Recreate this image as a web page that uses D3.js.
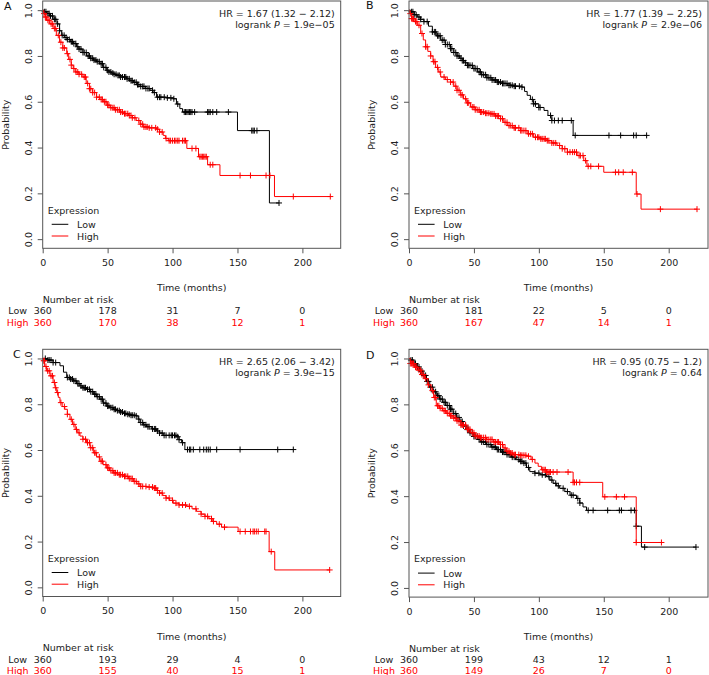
<!DOCTYPE html>
<html><head><meta charset="utf-8">
<script src="https://cdn.jsdelivr.net/npm/d3@7"></script>
<style>body{margin:0;background:#fff}svg{display:block}text{font-family:"DejaVu Sans",sans-serif;}</style>
</head><body><svg id="c" width="709" height="675"></svg>
<script>
// ---------- DATA ----------
const xTicks = [0, 50, 100, 150, 200];
const yTicks = [0, 0.2, 0.4, 0.6, 0.8, 1.0];
const groups = ["Low", "High"];
const panelLetters = ["A", "B", "C", "D"];

// Kaplan-Meier steps: [time (months), survival after drop]
const A_low = [[1,0.993],[3,0.985],[5.5,0.975],[8,0.96],[11,0.94],[13,0.91],[14.6,0.89],[17,0.88],[19,0.872],[21.5,0.862],[23.6,0.854],[26,0.84],[28,0.83],[31,0.815],[33.8,0.80],[36.5,0.79],[39,0.782],[41.5,0.775],[44,0.766],[46.5,0.75],[49,0.737],[51,0.73],[53,0.725],[55,0.72],[57,0.715],[60,0.708],[64.6,0.70],[67,0.692],[70,0.685],[72.5,0.675],[75,0.667],[79,0.658],[82.6,0.65],[85,0.64],[87.7,0.62],[95,0.617],[100.5,0.613],[103,0.59],[105.6,0.57],[107.7,0.555],[150,0.474],[174.6,0.158]];
const A_high = [[0.5,0.985],[2,0.97],[3,0.956],[5.5,0.94],[8,0.92],[10.5,0.89],[13,0.86],[15.5,0.835],[18.5,0.81],[20,0.785],[22,0.76],[23.5,0.745],[25,0.73],[28,0.72],[31,0.708],[33.5,0.68],[36,0.657],[38.5,0.64],[41.5,0.62],[44,0.61],[46.7,0.60],[49.5,0.585],[52,0.574],[55.5,0.565],[59.5,0.555],[62.5,0.548],[66,0.54],[69,0.53],[72,0.518],[75,0.502],[77.4,0.49],[82,0.486],[87.7,0.48],[90,0.468],[92.8,0.453],[94.5,0.44],[96.7,0.43],[111,0.396],[120,0.36],[127,0.325],[136.5,0.278],[178.5,0.186]];
const A_lowCens = [1.5,2.5,4,5,6,7.5,9,10,11.5,13,15,16.5,18,19,20.5,22,23,24,25.5,27,28,29.5,31,32,33.5,35,36,37,38.5,39.5,41,42,43.6,45,46,47,48.7,50,51,52.5,54,55,56.5,58,59,60,61.5,63,64,65,66.7,68,69,70.5,72,73,74,75.5,77,78,79.5,81,82,84.6,86,88.5,90,91,93.6,96,98.7,101,104,109,110,111,112,113,114,115,117,127,128,129,131,134,143,161,162,163,165,182];
const A_highCens = [1,2,2.6,4,5,6.5,7.7,9,10,12,14,15.5,16.7,19,21,22,24,25.6,27,28,30,32,33,34.6,36,37,38.5,40,41.5,43.6,45,46,47.5,48.7,50,51,52.5,54,55,56,57.5,59,60,61.5,63,64,65.5,66.7,68,69,71,74,75.5,77,78,79.5,80.5,82,84,87,88.5,90,92,95,97.4,98.5,100,101.5,102.6,104,105,107.7,109,110,115,118,121,122,123,124,125,126,129,131,152,160,172,175,193,221.5];

const B_low = [[1.3,0.993],[4,0.98],[6.4,0.97],[9,0.96],[11.5,0.95],[15,0.93],[18,0.905],[21,0.888],[24.4,0.869],[28,0.85],[32,0.832],[34.5,0.815],[37,0.80],[39,0.79],[41,0.78],[43,0.77],[45,0.759],[49,0.745],[52.6,0.73],[56,0.718],[60,0.705],[64,0.695],[68,0.686],[72,0.68],[75.6,0.672],[81,0.668],[87,0.664],[89,0.645],[91,0.628],[93.5,0.61],[96,0.591],[100,0.575],[104,0.562],[107,0.54],[110,0.518],[126.4,0.453]];
const B_high = [[0.5,0.985],[2,0.963],[4,0.95],[6.4,0.934],[9,0.898],[11,0.87],[12.8,0.84],[14.5,0.82],[16.7,0.80],[18.5,0.775],[20.5,0.75],[22.5,0.73],[24.4,0.708],[28,0.697],[32,0.686],[34.5,0.668],[37,0.65],[39.5,0.63],[42,0.613],[44.5,0.595],[47.4,0.577],[51,0.565],[55,0.555],[59,0.55],[62.8,0.547],[66.5,0.538],[70.5,0.526],[73,0.51],[75.6,0.496],[80,0.486],[86,0.474],[91,0.46],[96,0.445],[101,0.438],[106.4,0.43],[110,0.42],[114,0.409],[118,0.395],[122,0.38],[129.5,0.365],[134.6,0.343],[137,0.318],[150,0.292],[175,0.197],[178.7,0.131]];
const B_lowCens = [2,3,4,5.5,7.7,9,11.5,14,18,19.5,20.5,22,23,24,25.6,27,28,29.5,31,32,33,34.5,36,37,38.5,40,41,42,43.6,45,46,47,48.7,50,51,52.5,54,55,56,57.5,59,60,61.5,63,64,65.5,66.7,68,69,70.5,72,73,74,75.5,77,78,79.5,81,82,85,87,95,96,97.4,100,101,109,110,112,115,118,125,128,154,163,173,175,183];
const B_highCens = [1,2,2.6,3.5,5,6,7.7,10,12.8,14,16.7,19,20,22,24,27,29.5,32,34,36,37,38.5,40,41,43.6,45,46,48.7,50,51,52.5,54,55,56,57.5,59,60,61.5,63,64,65.5,66.7,68,69,70.5,72,74,75.5,77,78,79.5,81,82,84.6,86,87,88.5,90,92,93.5,95,97.4,99,100,101.5,102.6,104,105,106.5,107.7,110,111.5,113,116,118,120,122,124,126,127.5,129,131,132,134,136,138,140,146,159,161.5,165,172,175.6,193.6,221.8];

const C_low = [[3,0.993],[8,0.982],[13.3,0.968],[16,0.94],[18.5,0.917],[21,0.91],[23.6,0.902],[26,0.89],[28.7,0.88],[31,0.872],[33.8,0.865],[36.5,0.855],[39,0.844],[41.5,0.833],[44,0.822],[46.5,0.805],[49,0.792],[51.5,0.785],[54.4,0.778],[57,0.772],[59.5,0.766],[62,0.76],[64.6,0.756],[68,0.752],[72,0.749],[73.5,0.735],[75,0.72],[77.5,0.71],[80,0.702],[84,0.692],[87.7,0.683],[90,0.674],[92.8,0.664],[103,0.658],[105,0.645],[107,0.632],[109.5,0.602]];
const C_high = [[0.5,0.99],[1.5,0.965],[3,0.946],[5.6,0.924],[8,0.895],[9.5,0.872],[10.8,0.851],[12,0.83],[13.3,0.807],[15,0.79],[17,0.778],[19,0.756],[21,0.734],[23,0.712],[25,0.69],[27,0.675],[28.7,0.661],[31,0.647],[33.8,0.632],[36.5,0.61],[39,0.588],[41.5,0.57],[44,0.551],[46.5,0.536],[49,0.522],[51.5,0.51],[54.4,0.50],[58,0.492],[62,0.485],[66,0.475],[70,0.463],[72.5,0.452],[75,0.441],[80,0.438],[85,0.434],[87.5,0.423],[90,0.412],[92.5,0.401],[95,0.39],[97.5,0.38],[100.5,0.368],[105,0.36],[110.8,0.354],[115,0.343],[118.5,0.332],[122,0.32],[125,0.31],[128,0.3],[131,0.288],[134,0.276],[137.7,0.263],[150.5,0.244],[174.4,0.156],[178.7,0.076]];
const C_lowCens = [2,4,5,6.4,8,10,19,20.5,21.5,23,24,25.6,27,28,29.5,31,32,33,34.5,36,37,38.5,40,41,42,43.6,45,46,47,48.7,50,51,52.5,54,55,56,57.5,59,60,61.5,63,64,65.5,66.7,68,69,70.5,72,74,75.5,77,78,79.5,81,82,84.6,86,87,88.5,90,92,93.5,95,97.4,99,100,101.5,102.6,104,105,107.7,111.5,113,114,116,121,124,126,127.5,129,134,152,181,193];
const C_highCens = [0.8,1.3,2.5,3.8,5,6.4,7.5,9,10,11.5,14,16.7,19,22,24,26,28,31,33,34.5,36,37,38.5,40,41,43.6,45,46,48.7,50,51,52.5,54,55,56,57.5,59,60,61.5,63,64,65.5,66.7,68,69,70.5,72,74,75.5,77,79.5,82,84.6,86,87,88.5,90,92,95,97.4,100,102.6,105,107.7,110,113,118,122,125,127,130,131.5,136,140,152,156,160,162,163,164.5,166,171,172,176,221];

const D_low = [[1,0.993],[3.5,0.978],[5.7,0.963],[8,0.945],[10.8,0.926],[13.5,0.9],[16,0.875],[18.5,0.855],[21,0.838],[23.5,0.823],[26,0.809],[28.5,0.795],[31.4,0.779],[34,0.76],[36.5,0.743],[39,0.725],[41.7,0.706],[44,0.69],[46.8,0.676],[50,0.66],[53,0.647],[56,0.636],[59.7,0.625],[63.5,0.614],[67.4,0.603],[71,0.592],[75,0.581],[79,0.57],[83,0.559],[85.5,0.552],[88,0.544],[90.5,0.525],[93,0.507],[97,0.5],[101,0.493],[106,0.485],[108.5,0.47],[111,0.456],[113.5,0.445],[116,0.434],[120,0.42],[124,0.404],[129,0.39],[131.5,0.37],[134,0.353],[136.7,0.338],[175,0.269],[179,0.178]];
const D_high = [[1,0.978],[4,0.962],[7,0.949],[9.5,0.93],[12,0.912],[14.5,0.885],[17,0.86],[19,0.83],[21,0.794],[23.5,0.783],[26,0.772],[28.7,0.761],[31.4,0.75],[34,0.74],[36.5,0.728],[40,0.71],[44,0.691],[47.5,0.676],[50.7,0.662],[55,0.655],[59.7,0.647],[65,0.636],[70,0.625],[72.5,0.61],[75,0.596],[77.5,0.588],[80.3,0.581],[85,0.578],[90.6,0.574],[94,0.56],[97,0.544],[99.5,0.53],[102,0.515],[106,0.505],[126.4,0.46],[149.2,0.397],[175,0.198]];
const D_lowCens = [1.5,2.6,4,5,6.5,7.7,9,10,11.5,12.8,14,15,16.5,18,19,20.5,22,23,24,25.6,27,28,29.5,31,32,33,34.5,36,37,38.5,40,41,42,43.6,45,46,47,48.7,50,51,52.5,54,55,56,57.5,59,60,61.5,63,64,65.5,66.7,68,69,70.5,72,73,74,75.5,77,78,79.5,81,82,84.6,86,87,88.5,90,92,97,100,102.6,105,107.7,110,113,115,118.7,122,125,126.4,130,131.6,138,141.8,153,162,163.6,171,173.6,175,181.5,221];
const D_highCens = [1,2,2.6,3.5,5,6,7.7,9,10,11,12.8,15,18,19.5,20.5,22,23,24,25.6,27,28,29.5,31,32,33,34.5,36,37,38.5,40,41,42,43.6,45,46,47,48.7,50,51,52.5,54,55,56,57.5,59,60,61.5,63,64,65.5,66.7,68,69,70.5,72,74,75.5,77,78,79.5,81,82,84.6,86,87,88.5,90,92,95,103,104,105,106,107,108,109,111,114,122.5,126.4,127.5,129,131.5,150.8,159.7,166,175,194.4];

// Numbers at risk at xTicks
const A_riskLow = [360,178,31,7,0],  A_riskHigh = [360,170,38,12,1];
const B_riskLow = [360,181,22,5,0],  B_riskHigh = [360,167,47,14,1];
const C_riskLow = [360,193,29,4,0],  C_riskHigh = [360,155,40,15,1];
const D_riskLow = [360,199,43,12,1], D_riskHigh = [360,149,26,7,0];

// Statistics
const hrTexts = ["HR = 1.67 (1.32 \u2212 2.12)", "HR = 1.77 (1.39 \u2212 2.25)", "HR = 2.65 (2.06 \u2212 3.42)", "HR = 0.95 (0.75 \u2212 1.2)"];
const pTexts = ["1.9e\u221205", "2.9e\u221206", "3.9e\u221215", "0.64"];

// ---------- LAYOUT ----------
const colors = {Low: "#000000", High: "#ff0000"};
const FS = 9.5;
const boxes = [
  {x: 42.7, y: 1,     w: 298, h: 247.3, lx: 4,   ly: 10},
  {x: 409,  y: 1,     w: 299, h: 247.3, lx: 366, ly: 9},
  {x: 42.7, y: 349.3, w: 298, h: 247.2, lx: 13,  ly: 357.5},
  {x: 409,  y: 349.3, w: 299, h: 247.8, lx: 366, ly: 358.5}
];
const panelData = [
  {Low: A_low, High: A_high, LowC: A_lowCens, HighC: A_highCens, rLow: A_riskLow, rHigh: A_riskHigh},
  {Low: B_low, High: B_high, LowC: B_lowCens, HighC: B_highCens, rLow: B_riskLow, rHigh: B_riskHigh},
  {Low: C_low, High: C_high, LowC: C_lowCens, HighC: C_highCens, rLow: C_riskLow, rHigh: C_riskHigh},
  {Low: D_low, High: D_high, LowC: D_lowCens, HighC: D_highCens, rLow: D_riskLow, rHigh: D_riskHigh}
];

const svg = d3.select("#c");

function survAt(steps, t) {
  let s = 1;
  for (const [ti, si] of steps) { if (ti <= t) s = si; else break; }
  return s;
}

panelData.forEach((pd, i) => {
  const b = boxes[i];
  const g = svg.append("g");
  const x = d3.scaleLinear().domain([0, 229.5 * b.w / 298]).range([b.x, b.x + b.w]);
  const y = d3.scaleLinear().domain([-0.04, 1.04]).range([b.y + b.h, b.y]);
  const bottom = b.y + b.h, left = b.x, right = b.x + b.w, top = b.y;

  // curves
  groups.forEach(grp => {
    const steps = pd[grp], cens = pd[grp + "C"];
    const end = d3.max(cens);
    const pts = [[0, 1], ...steps, [end, steps[steps.length - 1][1]]];
    const line = d3.line().x(d => x(d[0])).y(d => y(d[1])).curve(d3.curveStepAfter);
    g.append("path").attr("d", line(pts)).attr("fill", "none")
      .attr("stroke", colors[grp]).attr("stroke-width", 1);
    g.append("g").selectAll("path").data(cens).join("path")
      .attr("d", t => {
        const cx = x(t), cy = y(survAt(steps, t));
        return `M${cx - 3},${cy}h6M${cx},${cy - 3}v6`;
      })
      .attr("stroke", colors[grp]).attr("stroke-width", 1).attr("fill", "none");
  });

  // box
  g.append("rect").attr("x", left).attr("y", top).attr("width", b.w).attr("height", b.h)
    .attr("fill", "none").attr("stroke", "#555").attr("stroke-width", 1);

  // y axis
  const ya = g.append("g").attr("transform", `translate(${left},0)`)
    .call(d3.axisLeft(y).tickValues(yTicks).tickSize(5).tickSizeOuter(0).tickFormat(d3.format(".1f")));
  ya.select(".domain").remove();
  ya.selectAll("line").attr("stroke", "#555");
  ya.selectAll("text").attr("x", 0).attr("y", 0).attr("dy", 0)
    .attr("text-anchor", "middle").attr("transform", "translate(-11.2,0) rotate(-90)")
    .attr("font-size", FS).attr("font-family", "DejaVu Sans").attr("fill", "#222");

  // x axis
  const xa = g.append("g").attr("transform", `translate(0,${bottom})`)
    .call(d3.axisBottom(x).tickValues(xTicks).tickSize(5).tickSizeOuter(0).tickPadding(6));
  xa.select(".domain").remove();
  xa.selectAll("line").attr("stroke", "#555");
  xa.selectAll("text").attr("font-size", FS).attr("font-family", "DejaVu Sans").attr("fill", "#222");

  // axis titles
  g.append("text").attr("x", (left + right) / 2).attr("y", bottom + 43)
    .attr("text-anchor", "middle").attr("font-size", FS).attr("fill", "#222").text("Time (months)");
  g.append("text").attr("transform", `translate(${left - 34},${(top + bottom) / 2}) rotate(-90)`)
    .attr("text-anchor", "middle").attr("font-size", FS).attr("fill", "#222").text("Probability");

  // panel letter
  svg.append("text").attr("x", b.lx).attr("y", b.ly).attr("font-size", 11).attr("fill", "#111").text(panelLetters[i]);

  // HR + logrank
  g.append("text").attr("x", right - 6).attr("y", top + 16).attr("text-anchor", "end")
    .attr("font-size", FS).attr("fill", "#222").text(hrTexts[i]);
  const lt = g.append("text").attr("x", right - 6).attr("y", top + 27).attr("text-anchor", "end")
    .attr("font-size", FS).attr("fill", "#222");
  lt.append("tspan").text("logrank ");
  lt.append("tspan").attr("font-style", "italic").text("P");
  lt.append("tspan").text(" = " + pTexts[i]);

  // legend
  g.append("text").attr("x", left + 5).attr("y", bottom - 34.8).attr("font-size", FS).attr("fill", "#222").text("Expression");
  groups.forEach((grp, k) => {
    const ly = bottom - 24 + k * 11.7;
    g.append("line").attr("x1", left + 9).attr("x2", left + 25.6).attr("y1", ly).attr("y2", ly)
      .attr("stroke", colors[grp]).attr("stroke-width", 1);
    g.append("text").attr("x", left + 34.3).attr("y", ly + 3.5).attr("font-size", FS).attr("fill", "#222").text(grp);
  });

  // risk table
  g.append("text").attr("x", x(0)).attr("y", bottom + 54.8).attr("font-size", FS).attr("fill", "#222").text("Number at risk");
  const rows = [{grp: "Low", vals: pd.rLow, dy: 66}, {grp: "High", vals: pd.rHigh, dy: 77.3}];
  rows.forEach(r => {
    const col = r.grp === "Low" ? "#222" : colors.High;
    g.append("text").attr("x", left - 25).attr("y", bottom + r.dy).attr("text-anchor", "middle")
      .attr("font-size", FS).attr("fill", col).text(r.grp);
    g.append("g").selectAll("text").data(r.vals).join("text")
      .attr("x", (d, j) => x(xTicks[j])).attr("y", bottom + r.dy).attr("text-anchor", "middle")
      .attr("font-size", FS).attr("fill", col).text(d => d);
  });
});
</script></body></html>
